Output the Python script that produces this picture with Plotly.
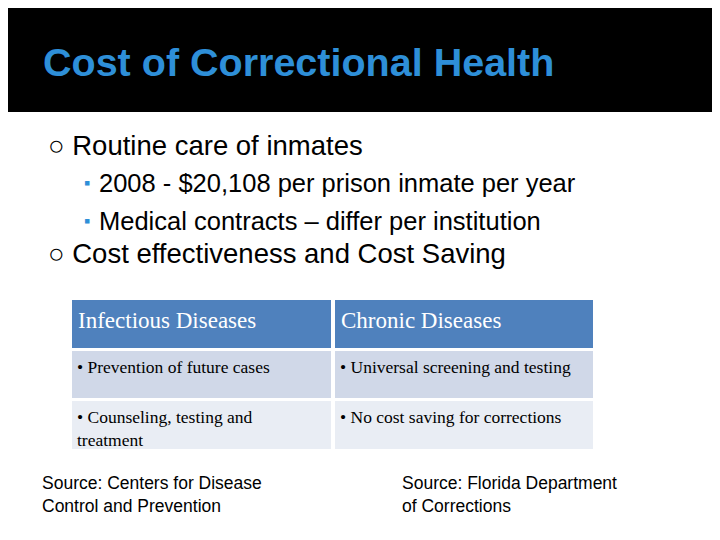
import plotly.graph_objects as go

title = "Cost of Correctional Health"
level1 = ["Routine care of inmates", "Cost effectiveness and Cost Saving"]
level2 = ["2008 - $20,108 per prison inmate per year", "Medical contracts – differ per institution"]
headers = ["Infectious Diseases", "Chronic Diseases"]
col1 = ["• Prevention of future cases", "• Counseling, testing and<br>treatment"]
col2 = ["• Universal screening and testing", "• No cost saving for corrections"]
sources = ["Source: Centers for Disease<br>Control and Prevention", "Source: Florida Department<br>of Corrections"]

fig = go.Figure()
shapes = [dict(type="rect", x0=-10, x1=730, y0=-10, y1=112, fillcolor="black", line_width=0, layer="below")]
ann = []
def t(x, y, s, size, color="black", fam="Arial", xa="left", ya="middle"):
    ann.append(dict(x=x, y=y, text=s, showarrow=False, xanchor=xa, yanchor=ya,
                    font=dict(size=size, color=color, family=fam), align="left"))

t(41, 62, "<b>" + title + "</b>", 39.5, "#2e8fd8")
t(46, 145, "○ " + level1[0], 27.5)
t(46, 253, "○ " + level1[1], 27.5)
for i, s in enumerate(level2):
    y = 183 + 38 * i
    t(82, y, "▪", 18, "#2e8fd8")
    t(97, y, s, 25.5)

xs = [(72, 331), (335, 593)]
rows = [(300, 348), (351, 398), (401, 449)]
fills = ["#4f81bd", "#d0d8e8", "#e9edf4"]
cells = [headers, [col1[0], col2[0]], [col1[1], col2[1]]]
serif = "Liberation Serif"
for r, (y0, y1) in enumerate(rows):
    for c, (x0, x1) in enumerate(xs):
        shapes.append(dict(type="rect", x0=x0, x1=x1, y0=y0, y1=y1, fillcolor=fills[r], line_width=0, layer="below"))
        if r == 0:
            t(x0 + 4, 320, cells[r][c], 23, "white", serif)
        else:
            t(x0 + 3, y0 + 4, cells[r][c], 17.5, "black", serif, ya="top")

t(40, 494, sources[0], 17.5)
t(400, 494, sources[1], 17.5)

fig.update_layout(width=720, height=540, margin=dict(l=0, r=0, t=0, b=0),
                  plot_bgcolor="white", paper_bgcolor="white", shapes=shapes, annotations=ann,
                  xaxis=dict(range=[8, 728], visible=False, fixedrange=True),
                  yaxis=dict(range=[548, 8], visible=False, fixedrange=True), showlegend=False)
fig.write_html("out.html")
